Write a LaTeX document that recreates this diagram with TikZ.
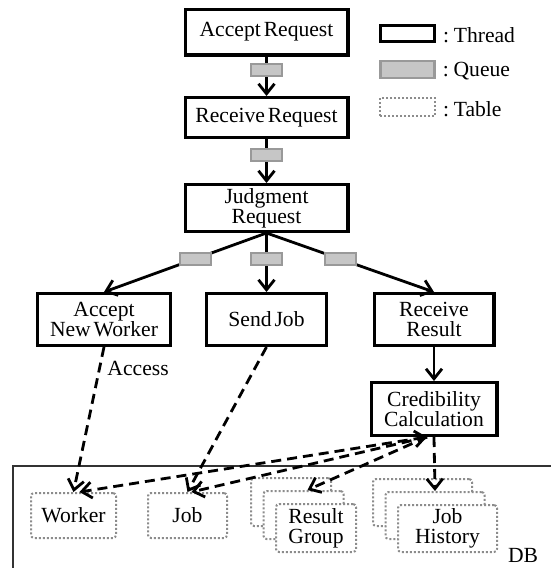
\documentclass[tikz,border=0pt]{standalone}
\usepackage{fontspec}
\setmainfont{Liberation Serif}[WordSpace=0.55]
\usetikzlibrary{arrows.meta}
\tikzstyle{line} = [draw, line width=1.4pt, -{Straight Barb[length=5pt,width=8pt]}]
\tikzstyle{dline} = [line, dash pattern=on 5pt off 3pt]
\tikzstyle{thread} = [draw, rectangle, line width=1.6pt, align=center, inner sep=1pt]
\tikzstyle{queue} = [draw=gray!80, fill=gray!45, rectangle, line width=1pt, minimum width=15.5pt, minimum height=6pt, inner sep=0pt]
\tikzstyle{dbtable} = [draw=gray!90, fill=white, rectangle, line width=1pt, dash pattern=on 1pt off 1pt, rounded corners=1.5pt, align=center, inner sep=0.5pt]

\begin{document}
\begin{tikzpicture}[x=0.5pt, y=-0.5pt, font=\fontsize{10.8}{10}\selectfont]
        \useasboundingbox (0,0) rectangle (551,568);
        % threads
        \node[thread, minimum width=81.4pt, minimum height=22.9pt] (accept) at (266.5,32) {Accept Request};
        \node[thread, below of=accept, node distance=42.75pt, minimum width=81.4pt, minimum height=19.9pt] (receive) {Receive Request};
        \node[thread, below of=receive, node distance=45.25pt, minimum width=81.4pt, minimum height=23.4pt] (judge) {Judgment\\Request};
        \node[thread, below of=judge, node distance=55.75pt, minimum width=59.9pt, minimum height=25.9pt] (sendjob) {Send Job};
        \node[thread, left of=sendjob, node distance=81.25pt, minimum width=66.4pt, minimum height=25.9pt] (newworker) {Accept\\New Worker};
        \node[thread, right of=sendjob, node distance=83.75pt, minimum width=59.9pt, minimum height=25.9pt] (recvresult) {Receive\\Result};
        \node[thread, below of=recvresult, node distance=44.75pt, minimum width=62.9pt, minimum height=26.4pt] (credcalc) {Credibility\\Calculation};
        % legend
        \node[thread, minimum width=26.9pt, minimum height=7.9pt] (legthread) at (407.5,33.5) {};
        \node[queue, below of=legthread, node distance=18pt, minimum width=27pt, minimum height=8.5pt, line width=1.3pt] (legqueue) {};
        \node[dbtable, below of=legqueue, node distance=18.75pt, minimum width=27.5pt, minimum height=9pt, rounded corners=0pt] (legtable) {};
        \node[anchor=west, yshift=-1pt] (legthreadtxt) at (legthread.east) {: Thread};
        \node[anchor=west, yshift=-1pt] (legqueuetxt) at (legqueue.east) {: Queue};
        \node[anchor=west, yshift=-1pt] (legtabletxt) at (legtable.east) {: Table};
        % DB and tables
        \draw[line width=0.6pt, black!80] (13,568) |- (551,466);
        \node (dblabel) at (523,555) {DB};
        \node[dbtable, minimum width=42.5pt, minimum height=22.5pt] (worker) at (73.5,515.5) {Worker};
        \node[dbtable, right of=worker, node distance=57pt, minimum width=39.5pt, minimum height=22.5pt] (job) {Job};
        \node[dbtable, minimum width=40pt, minimum height=24pt] (rgback) at (291,502) {};
        \node[dbtable, minimum width=40pt, minimum height=24pt] (rgmid) at ([shift={(12.5,13)}]rgback) {};
        \node[dbtable, minimum width=40pt, minimum height=24pt] (rg) at ([shift={(12.5,13)}]rgmid) {Result\\Group};
        \node[dbtable, minimum width=49.5pt, minimum height=23.5pt] (jhback) at (422.5,502.5) {};
        \node[dbtable, minimum width=49.5pt, minimum height=23.5pt] (jhmid) at ([shift={(12.5,13)}]jhback) {};
        \node[dbtable, minimum width=49.5pt, minimum height=23.5pt] (jh) at ([shift={(12.5,13)}]jhmid) {Job\\History};
        % queues between threads
        \path[line] (accept) -- node[queue, pos=0.34] (q1) {} (receive);
        \path[line] (receive) -- node[queue, pos=0.36] (q2) {} (judge);
        \path[line] (judge.south) -- node[queue, pos=0.44] (q3) {} (newworker.north);
        \path[line] (judge.south) -- node[queue, pos=0.44] (q4) {} (sendjob.north);
        \path[line] (judge.south) -- node[queue, pos=0.44] (q5) {} (recvresult.north);
        \path[line] (recvresult) -- (credcalc);
        % table access
        \coordinate (credout) at ([xshift=-3.5pt]credcalc.south);
        \path[dline] (newworker.south) -- node[pos=0.15, right] {Access} (worker.north);
        \path[dline] (sendjob.south) -- (job.north);
        \path[dline, {Straight Barb[length=5pt,width=8pt]}-{Straight Barb[length=5pt,width=8pt]}] (credout) -- ([xshift=3pt]worker.north);
        \path[dline] (credout) -- ([xshift=2pt]job.north);
        \path[dline] (credout) -- ([xshift=2pt]rgmid.north);
        \path[dline] (credcalc.south) -- (jhmid.north);
    \end{tikzpicture}
\end{document}
